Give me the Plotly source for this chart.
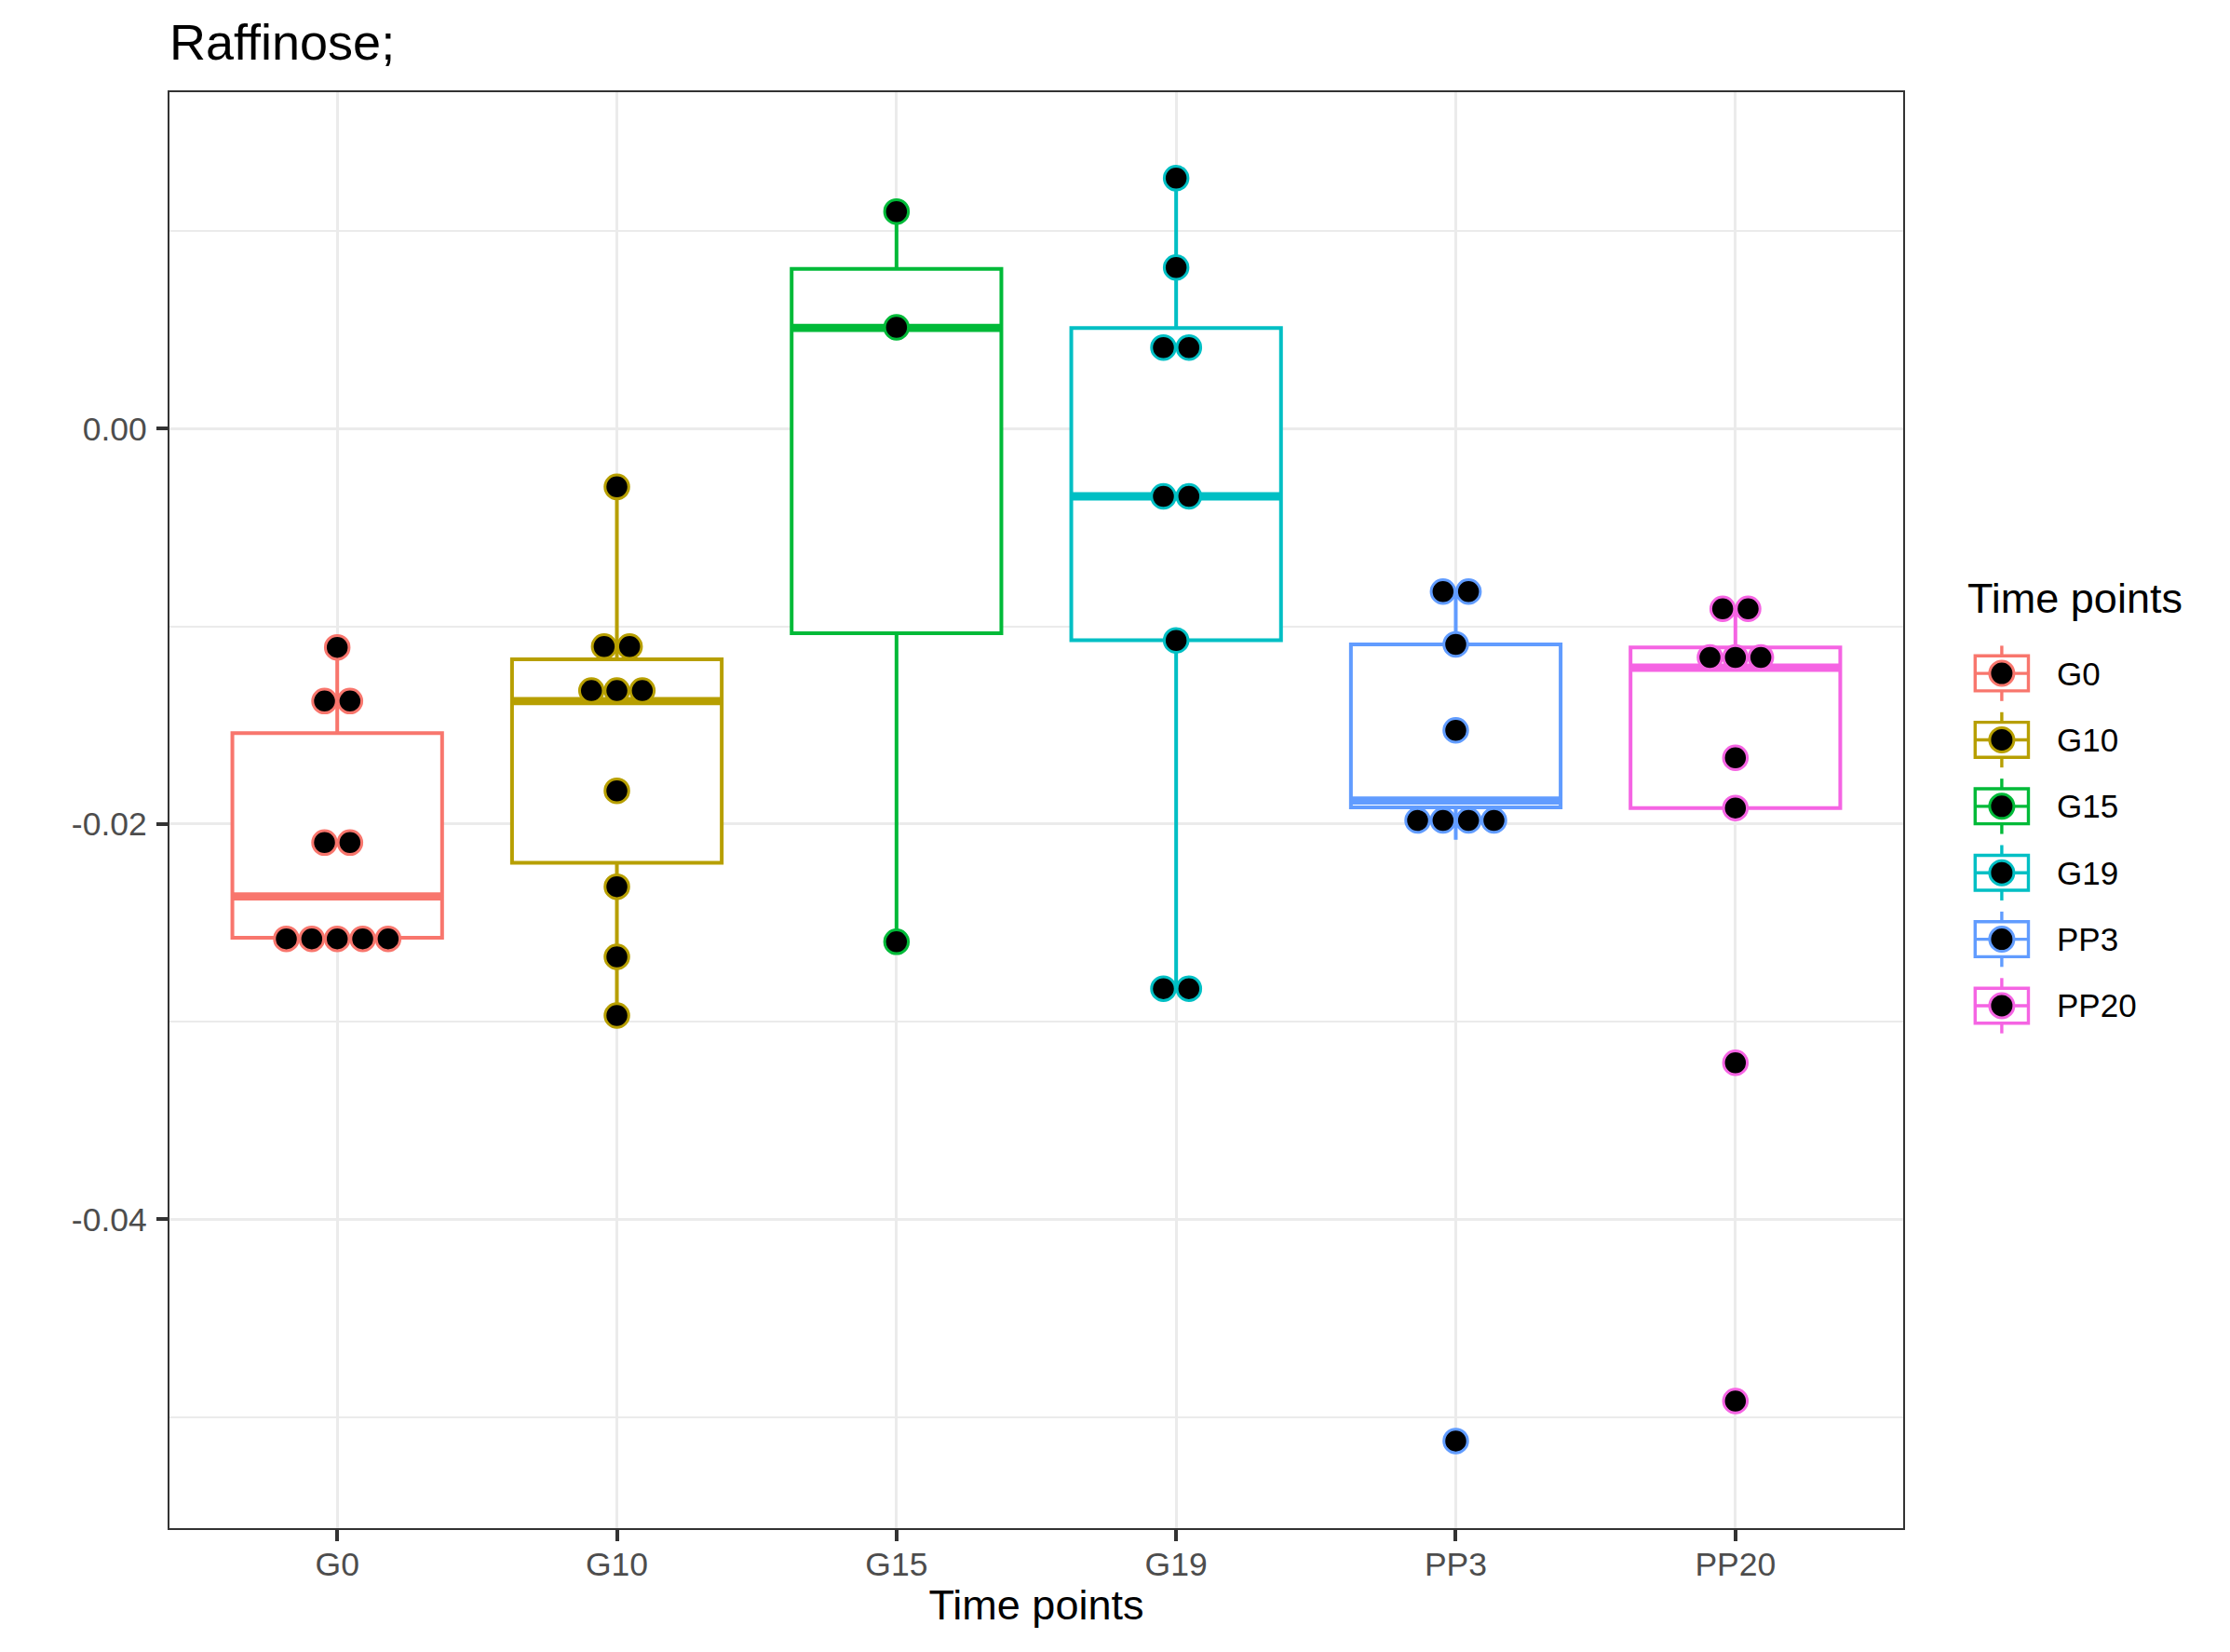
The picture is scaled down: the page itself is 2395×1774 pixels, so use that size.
import plotly.graph_objects as go
from collections import Counter

# ---------------- data ----------------
categories = ["G0", "G10", "G15", "G19", "PP3", "PP20"]
colors = ["#F8766D", "#B79F00", "#00BA38", "#00BFC4", "#619CFF", "#F564E3"]

# observations (as shown by the dot plot bins)
g0_values = [-0.01106, -0.01378, -0.01378, -0.02094, -0.02094,
             -0.02581, -0.02581, -0.02581, -0.02581, -0.02581]
g10_values = [-0.00294, -0.01102, -0.01102, -0.01325, -0.01325, -0.01325,
              -0.01832, -0.02317, -0.02672, -0.02969]
g15_values = [0.01099, 0.00513, -0.02596]
g19_values = [0.01268, 0.00816, 0.00411, 0.00411, -0.00342, -0.00342,
              -0.01071, -0.02833, -0.02833]
pp3_values = [-0.00824, -0.00824, -0.01091, -0.01526,
              -0.01982, -0.01982, -0.01982, -0.01982, -0.05122]
pp20_values = [-0.00911, -0.00911, -0.01157, -0.01157, -0.01157,
               -0.01665, -0.01919, -0.03208, -0.04920]
group_values = [g0_values, g10_values, g15_values, g19_values, pp3_values, pp20_values]

# box statistics
box_lower = [-0.02581, -0.02969, -0.02596, -0.02833, -0.02080, -0.01919]
box_q1 = [-0.02576, -0.02196, -0.01035, -0.01070, -0.01916, -0.01919]
box_median = [-0.02366, -0.01378, 0.00510, -0.00342, -0.01881, -0.01209]
box_q3 = [-0.01540, -0.01167, 0.00809, 0.00510, -0.01091, -0.01107]
box_upper = [-0.01106, -0.00294, 0.01099, 0.01268, -0.00824, -0.00905]

y_tickvals = [-0.04, -0.02, 0.0]
y_ticktext = ["-0.04", "-0.02", "0.00"]

# ---------------- layout constants ----------------
W_IMG, H_IMG = 2395, 1774
OFF = 8  # page body margin
L, R, T, B = 182.3 - OFF, 2044.5 - OFF, 98.5 - OFF, 1641 - OFF
PW, PH = R - L, B - T
FONT = "Liberation Sans, Arial, Helvetica, sans-serif"
BOX_W = 0.75
DOT_STEP = 0.091
LINE_W = 4.0
AX_COL = "#333333"

def px_x(p):
    return (p - L) / PW

def px_y(p):
    return (B - p) / PH

fig = go.Figure()

# boxes
for i, cat in enumerate(categories):
    fig.add_trace(go.Box(
        x=[i], q1=[box_q1[i]], median=[box_median[i]], q3=[box_q3[i]],
        lowerfence=[box_lower[i]], upperfence=[box_upper[i]],
        width=BOX_W, whiskerwidth=0, boxpoints=False,
        line=dict(color=colors[i], width=LINE_W),
        fillcolor="white", name=cat, showlegend=False, hoverinfo="skip",
    ))

# thick median lines
for i, cat in enumerate(categories):
    fig.add_trace(go.Scatter(
        x=[i - BOX_W / 2, i + BOX_W / 2], y=[box_median[i], box_median[i]],
        mode="lines", line=dict(color=colors[i], width=LINE_W * 2.2),
        showlegend=False, hoverinfo="skip",
    ))

# stacked dots (centered)
for i, vals in enumerate(group_values):
    counts = Counter(vals)
    xs, ys = [], []
    for v, n in counts.items():
        for k in range(n):
            xs.append(i + (k - (n - 1) / 2) * DOT_STEP)
            ys.append(v)
    fig.add_trace(go.Scatter(
        x=xs, y=ys, mode="markers",
        marker=dict(color="black", size=25.5, line=dict(color=colors[i], width=3)),
        showlegend=False, name=categories[i],
    ))

# custom legend (ggplot-like keys)
shapes = []
annotations = []
key_cx = 2150.4 - OFF
key_y0 = 722.8 - OFF
key_dy = 71.4
for i, cat in enumerate(categories):
    cy = key_y0 + key_dy * i
    ax, ay = px_x(key_cx), px_y(cy)
    common = dict(xref="paper", yref="paper", xsizemode="pixel", ysizemode="pixel",
                  xanchor=ax, yanchor=ay)
    shapes.append(dict(type="line", x0=0, x1=0, y0=-29.7, y1=29.7,
                       line=dict(color=colors[i], width=3.4), **common))
    shapes.append(dict(type="rect", x0=-28.6, x1=28.6, y0=-18.8, y1=18.8,
                       fillcolor="white", line=dict(color=colors[i], width=3.4), **common))
    shapes.append(dict(type="line", x0=-28.6, x1=28.6, y0=0, y1=0,
                       line=dict(color=colors[i], width=3.4), **common))
    shapes.append(dict(type="circle", x0=-13, x1=13, y0=-13, y1=13,
                       fillcolor="black", line=dict(color=colors[i], width=3), **common))
    annotations.append(dict(xref="paper", yref="paper", x=px_x(2208 - OFF), y=ay,
                            xanchor="left", yanchor="middle", showarrow=False,
                            text=cat, font=dict(family=FONT, size=35, color="black")))
annotations.append(dict(xref="paper", yref="paper", x=px_x(2112 - OFF), y=px_y(642 - OFF),
                        xanchor="left", yanchor="middle", showarrow=False,
                        text="Time points", font=dict(family=FONT, size=45, color="black")))

fig.update_layout(
    width=W_IMG, height=H_IMG,
    margin=dict(l=L, r=W_IMG - R, t=T, b=H_IMG - B, autoexpand=False),
    paper_bgcolor="white", plot_bgcolor="white",
    boxmode="overlay",
    showlegend=False,
    font=dict(family=FONT, color="black"),
    title=dict(text="Raffinose;", x=0, xref="paper", xanchor="left",
               y=1 - (45 - OFF) / H_IMG, yref="container", yanchor="middle",
               font=dict(family=FONT, size=54, color="black")),
    xaxis=dict(
        range=[-0.6, 5.6], tickmode="array", tickvals=list(range(len(categories))),
        ticktext=categories, showgrid=True, gridcolor="#EBEBEB", gridwidth=3.3,
        zeroline=False, showline=True, mirror=True, linecolor=AX_COL, linewidth=2.3,
        ticks="outside", ticklen=12, tickwidth=4, tickcolor=AX_COL,
        ticklabelstandoff=-6,
        tickfont=dict(family=FONT, size=35.5, color="#4D4D4D"),
        title=dict(text="Time points", font=dict(family=FONT, size=45, color="black"), standoff=9),
    ),
    yaxis=dict(
        range=[-0.05563, 0.01703], tickmode="array", tickvals=y_tickvals, ticktext=y_ticktext,
        showgrid=True, gridcolor="#EBEBEB", gridwidth=3.3,
        minor=dict(dtick=0.01, tick0=0, showgrid=True, gridcolor="#EBEBEB", gridwidth=2),
        zeroline=False, showline=True, mirror=True, linecolor=AX_COL, linewidth=2.3,
        ticks="outside", ticklen=12, tickwidth=4, tickcolor=AX_COL,
        ticklabelstandoff=3,
        tickfont=dict(family=FONT, size=35.5, color="#4D4D4D"),
    ),
    shapes=shapes,
    annotations=annotations,
)

fig.write_html("out.html")
